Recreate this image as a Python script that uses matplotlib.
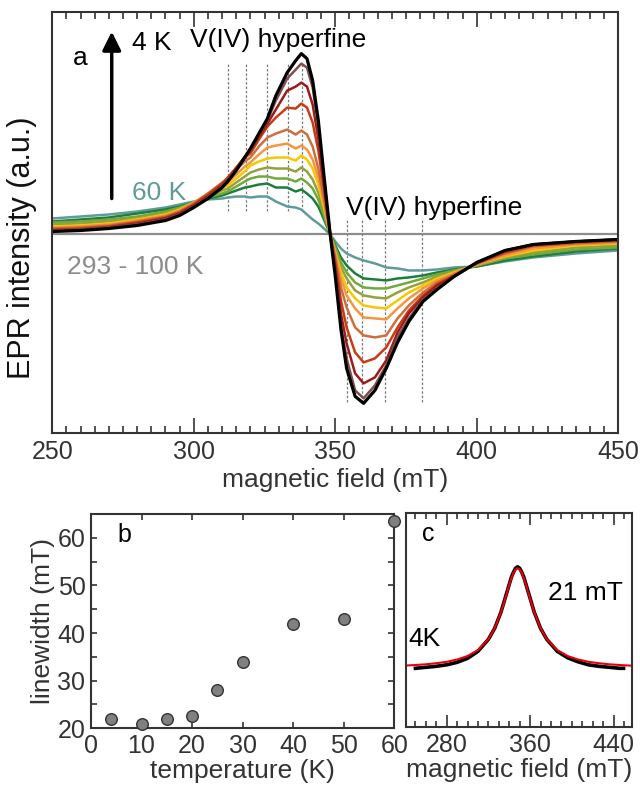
import numpy as np
import matplotlib.pyplot as plt
from matplotlib.ticker import MultipleLocator, FixedLocator

plt.rcParams['font.family'] = ['Liberation Sans', 'DejaVu Sans']

# %% panel a: EPR spectra (intensity in a.u., baseline = 0)
field = [250, 260, 270, 280, 290, 295, 300, 305, 310, 312, 315, 318, 320, 323,
         326, 329, 333, 336, 338, 340, 342, 344, 346, 348.2, 350, 352, 354,
         357, 360, 364, 368, 372, 376, 381, 386, 392, 400, 410, 420, 435, 450]

s_4K = [3, 4, 6, 9, 14, 19, 27, 36, 47, 53, 64, 77, 86, 101, 116, 139, 162,
        174, 181, 176, 154, 114, 59, 0, -42, -95, -134, -162, -169, -156,
        -134, -108, -87, -67, -55, -42, -28, -16, -10, -7, -5]
s_02 = [4, 5, 7, 10, 15, 20, 28, 37, 48, 54, 65, 77, 85, 100, 114, 134, 156,
        165, 171, 167, 147, 108, 56, 0, -38, -91, -124, -156, -164, -151,
        -131, -103, -84, -65, -54, -42, -28, -16, -10, -7, -5]
s_03 = [4, 5, 7, 11, 16, 21, 29, 38, 49, 55, 66, 78, 84, 98, 111, 125, 144,
        148, 152, 148, 130, 96, 50, 0, -33, -79, -109, -139, -149, -143,
        -126, -98, -79, -63, -51, -42, -28, -16, -10, -7, -5]
s_04 = [5, 6, 8, 12, 17, 22, 30, 40, 51, 57, 67, 77, 81, 95, 108, 117, 127,
        126, 131, 127, 112, 84, 45, 0, -28, -66, -93, -118, -128, -124,
        -113, -93, -76, -61, -50, -41, -29, -18, -11, -8, -6]
s_05 = [6, 7, 9, 13, 18, 23, 31, 41, 52, 56, 65, 73, 77, 88, 97, 101, 105,
        100, 104, 100, 88, 66, 36, 0, -23, -53, -73, -93, -101, -103,
        -101, -84, -71, -58, -48, -40, -29, -19, -12, -9, -7]
s_06 = [7, 8, 10, 14, 19, 24, 32, 41, 50, 52, 60, 68, 72, 80, 87, 89, 91,
        86, 89, 85, 75, 57, 31, 0, -20, -44, -61, -74, -83, -84,
        -85, -74, -64, -54, -46, -39, -30, -21, -14, -10, -8]
s_07 = [8, 9, 11, 15, 20, 25, 32, 40, 47, 49, 56, 63, 69, 73, 76, 77, 77,
        74, 79, 75, 66, 50, 27, 0, -18, -38, -53, -64, -71, -73,
        -74, -66, -58, -51, -44, -38, -30, -22, -16, -11, -9]
s_08 = [10, 11, 13, 16, 21, 26, 32, 38, 44, 46, 52, 58, 62, 65, 67, 66, 66,
        63, 67, 63, 55, 42, 23, 0, -15, -33, -44, -56, -61, -63,
        -64, -58, -53, -48, -42, -37, -31, -23, -18, -13, -11]
s_09 = [12, 13, 15, 18, 23, 27, 32, 37, 41, 43, 48, 53, 56, 58, 58, 56, 56,
        53, 56, 52, 46, 35, 19, 0, -13, -28, -38, -48, -53, -54,
        -54, -51, -48, -44, -40, -36, -31, -24, -20, -15, -13]
s_10 = [13, 15, 17, 21, 25, 28, 32, 36, 39, 41, 44, 47, 48, 50, 51, 47, 47,
        43, 45, 41, 36, 28, 15, 0, -11, -23, -31, -39, -44, -45,
        -46, -44, -43, -41, -38, -35, -32, -26, -22, -17, -14]
s_60K = [16, 18, 20, 23, 27, 30, 33, 35, 36, 37, 38, 38, 37, 38, 38, 33, 28,
         27, 25, 20, 15, 11, 6, 0, -7, -14, -19, -23, -26, -29,
         -33, -34, -36, -36, -35, -33, -32, -27, -23, -19, -16]

spectra = [s_60K, s_10, s_09, s_08, s_07, s_06, s_05, s_04, s_03, s_02, s_4K]
colors = ['#5f9b9b', '#1e7d3c', '#6eaa3c', '#96a03c', '#f5c800', '#f5963c',
          '#cd6e3c', '#c83c14', '#9b1b1b', '#7f4f4f', '#000000']

# 293 - 100 K: flat
hot_field = [250, 450]
hot_int = [0, 0]

# hyperfine line positions (mT)
hf_low = [312.1, 318.3, 325.8, 333.2, 338.2]
hf_high = [354.2, 359.5, 367.7, 380.7]

# %% panel b: linewidth vs temperature
temp = [4, 10, 15, 20, 25, 30, 40, 50, 60]
linewidth = [22, 21, 22, 22.5, 28, 34, 42, 43, 63.5]

# %% panel c: 4K absorption and Lorentzian fit
c_field = [250, 260, 270, 280, 290, 300, 310, 320, 326, 332, 336, 338, 340,
           342, 344, 346, 348, 350, 352, 354, 356, 358, 360, 364, 370, 376,
           386, 396, 406, 416, 426, 436, 446, 449.6]
c_data = [59, 60, 61, 62.5, 65, 69, 76, 88, 99, 115, 129, 136, 143, 150, 155,
          159, 160.5, 159, 155, 150, 143, 136, 129, 115, 99, 88, 76, 69.5,
          65.5, 62.5, 61, 60, 59, 59]
fit_field = [241, 250, 260, 270, 280, 290, 300, 310, 320, 326, 332, 336, 338,
             340, 342, 344, 346, 348, 350, 352, 354, 356, 358, 360, 364, 370,
             376, 386, 396, 406, 416, 426, 436, 446, 458]
fit_int = [61.8, 62.3, 63.0, 64.1, 65.5, 67.8, 71.3, 77.3, 88.2, 99.1, 114.9,
           128.2, 135.4, 142.5, 149, 154.3, 157.8, 159, 157.8, 154.3, 149,
           142.5, 135.4, 128.2, 114.9, 99.1, 88.2, 77.3, 71.3, 67.8, 65.5,
           64.1, 63.0, 62.3, 61.6]

# %% figure
spine_col = '#333333'
fig = plt.figure(figsize=(6.4, 7.88), dpi=100)
ax_a = fig.add_axes([0.0817, 0.4501, 0.8844, 0.5351])
ax_b = fig.add_axes([0.1422, 0.0758, 0.4739, 0.2719])
ax_c = fig.add_axes([0.6344, 0.0770, 0.3536, 0.2716])

for ax in [ax_a, ax_b, ax_c]:
    for sp in ax.spines.values():
        sp.set_linewidth(1.5)
        sp.set_color(spine_col)

# a
ax_a.plot(hot_field, hot_int, color='#8c8c8c', lw=1.6, zorder=1)
ax_a.vlines(hf_low, 24, 171, colors='#7a7a7a', linestyles=(0, (2, 1.5)),
            lw=0.9, zorder=0.5)
ax_a.vlines(hf_high, -168, 16, colors='#7a7a7a', linestyles=(0, (2, 1.5)),
            lw=0.9, zorder=0.5)
for s, col in zip(spectra, colors):
    ax_a.plot(field, s, color=col, lw=2.3 if col == '#000000' else 1.8,
              solid_joinstyle='round')

ax_a.set_xlim(250, 450)
ax_a.set_ylim(-199, 223)
ax_a.set_yticks([])
ax_a.xaxis.set_major_locator(MultipleLocator(50))
ax_a.xaxis.set_minor_locator(MultipleLocator(5))
ax_a.tick_params(axis='x', which='both', direction='in', top=True,
                 bottom=True, color=spine_col, width=1.2, labelsize=18,
                 labelcolor='#333333', pad=5)
ax_a.tick_params(axis='x', which='major', length=10.5)
ax_a.tick_params(axis='x', which='minor', length=4.8)
ax_a.set_xlabel('magnetic field (mT)', fontsize=19, color='#333333',
                labelpad=3)
ax_a.set_ylabel('EPR intensity (a.u.)', fontsize=22, color='#111111')
ax_a.yaxis.set_label_coords(-0.027, 0.44)

ax_a.annotate('', xy=(271, 203), xytext=(271, 36),
              arrowprops=dict(arrowstyle='-|>', lw=2.5, color='k',
                              mutation_scale=28, shrinkA=0, shrinkB=0))
ax_a.text(257.3, 177, 'a', fontsize=19, va='center', ha='left')
ax_a.text(278.2, 192, '4 K', fontsize=19, va='center', ha='left')
ax_a.text(298.6, 195, 'V(IV) hyperfine', fontsize=19, va='center', ha='left')
ax_a.text(353.9, 27, 'V(IV) hyperfine', fontsize=19, va='center', ha='left')
ax_a.text(278, 42, '60 K', fontsize=19, va='center', ha='left',
          color='#5f9b9b')
ax_a.text(255.1, -33, '293 - 100 K', fontsize=19, va='center', ha='left',
          color='#8c8c8c')

# b
ax_b.scatter(temp, linewidth, s=70, facecolor='#808080', edgecolor='#333333',
             linewidth=1.0, zorder=3, clip_on=False)
ax_b.set_xlim(0, 60)
ax_b.set_ylim(20, 65)
ax_b.xaxis.set_major_locator(MultipleLocator(10))
ax_b.yaxis.set_major_locator(MultipleLocator(10))
ax_b.yaxis.set_minor_locator(MultipleLocator(5))
ax_b.tick_params(which='both', direction='in', top=True, right=True,
                 length=4.3, width=1.2, color=spine_col, labelsize=18,
                 labelcolor='#333333', pad=4)
ax_b.set_xlabel('temperature (K)', fontsize=19, color='#333333', labelpad=1)
ax_b.set_ylabel('linewidth (mT)', fontsize=19, color='#333333', labelpad=2)
ax_b.text(5.15, 60.5, 'b', fontsize=18, va='center', ha='left')

# c
ax_c.plot(c_field, c_data, color='k', lw=2.6, solid_joinstyle='round')
ax_c.plot(fit_field, fit_int, color='#e8000b', lw=1.5, solid_joinstyle='round')
ax_c.set_xlim(241, 458)
ax_c.set_ylim(0, 214)
ax_c.set_yticks([])
ax_c.xaxis.set_major_locator(FixedLocator([280, 360, 440]))
ax_c.xaxis.set_minor_locator(MultipleLocator(10))
ax_c.tick_params(axis='x', which='both', direction='in', top=True,
                 bottom=True, color=spine_col, width=1.2, labelsize=18,
                 labelcolor='#333333', pad=4)
ax_c.tick_params(axis='x', which='major', length=8.6)
ax_c.tick_params(axis='x', which='minor', length=4.3)
ax_c.set_xlabel('magnetic field (mT)', fontsize=19, color='#333333',
                labelpad=1)
ax_c.text(256.4, 193.8, 'c', fontsize=18, va='center', ha='left')
ax_c.text(377.4, 134.8, '21 mT', fontsize=19, va='center', ha='left')
ax_c.text(243, 88.8, '4K', fontsize=19, va='center', ha='left')

fig.savefig('out.png', dpi=100)
